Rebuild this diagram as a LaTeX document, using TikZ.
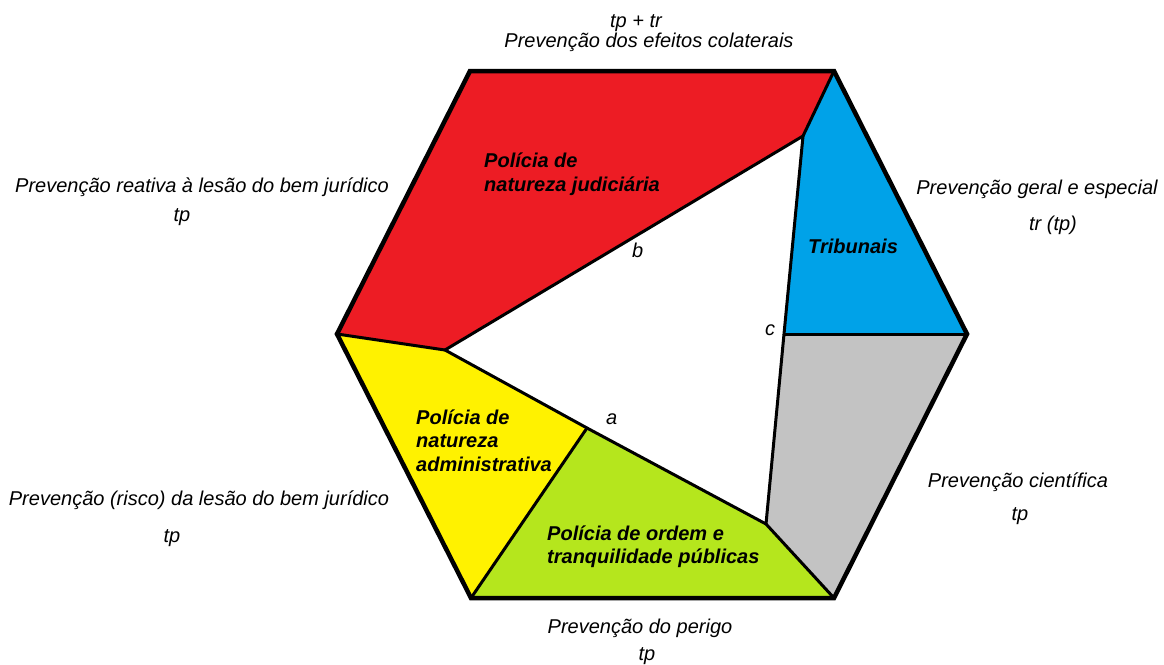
\documentclass[tikz,border=0pt]{standalone}
\usepackage{fontspec}
\setmainfont{Liberation Sans}
\definecolor{cred}{HTML}{ED1C24}
\definecolor{cblue}{HTML}{00A2E8}
\definecolor{cgray}{HTML}{C3C3C3}
\definecolor{cyellow}{HTML}{FFF200}
\definecolor{cgreen}{HTML}{B5E61D}
\tikzset{
  lbl/.style={inner sep=0pt, font=\fontsize{20}{24}\selectfont\itshape, anchor=base},
  blbl/.style={inner sep=0pt, font=\fontsize{20}{24}\selectfont\bfseries\itshape, anchor=base west},
  inner/.style={line width=3pt, line cap=round, line join=round},
  outer/.style={line width=4.5pt, line join=miter, miter limit=3}
}
\begin{document}
\begin{tikzpicture}[x=1pt,y=-1pt]
\useasboundingbox (0,0) rectangle (1164,664);
% hexagon vertices
\coordinate (T1) at (470,71);
\coordinate (T2) at (834,71);
\coordinate (R) at (967,334);
\coordinate (B2) at (834,598);
\coordinate (B1) at (471,598);
\coordinate (L) at (337,334);
% inner points
\coordinate (P) at (803,136);
\coordinate (Q) at (445,350);
\coordinate (A) at (587,428);
\coordinate (C) at (784,334);
\coordinate (S) at (766,524);
% regions
\fill[cred] (T1) -- (T2) -- (P) -- (Q) -- (L) -- cycle;
\fill[cblue] (T2) -- (R) -- (C) -- (P) -- cycle;
\fill[cgray] (C) -- (R) -- (B2) -- (S) -- cycle;
\fill[cyellow] (L) -- (Q) -- (A) -- (B1) -- cycle;
\fill[cgreen] (A) -- (S) -- (B2) -- (B1) -- cycle;
% inner lines
\draw[inner] (T2) -- (P) -- (Q) -- (A) -- (S) -- (B2);
\draw[inner] (P) -- (C) -- (S);
\draw[inner] (C) -- (R);
\draw[inner] (L) -- (Q);
\draw[inner] (A) -- (B1);
% hexagon outline
\draw[outer] (T1) -- (T2) -- (R) -- (B2) -- (B1) -- (L) -- cycle;
% region labels
\node[blbl] (rj1) at (484,167) {Polícia de};
\node[blbl] (rj2) at (484,191) {natureza judiciária};
\node[blbl] (tb) at (808,253) {Tribunais};
\node[blbl] (ya1) at (416,424) {Polícia de};
\node[blbl] (ya2) at (416,447) {natureza};
\node[blbl] (ya3) at (416,471) {administrativa};
\node[blbl] (go1) at (547,540) {Polícia de ordem e};
\node[blbl] (go2) at (547,563) {tranquilidade públicas};
% point labels
\node[lbl, anchor=base west] (pb) at (632,257) {b};
\node[lbl, anchor=base west] (pc) at (765,335) {c};
\node[lbl, anchor=base west] (pa) at (606,424) {a};
% side labels
\node[lbl] (top1) at (636,27) {tp + tr};
\node[lbl] (top2) at (649,47) {Prevenção dos efeitos colaterais};
\node[lbl] (lt1) at (202,192) {Prevenção reativa à lesão do bem jurídico};
\node[lbl] (lt2) at (182,221) {tp};
\node[lbl] (lb1) at (199,505) {Prevenção (risco) da lesão do bem jurídico};
\node[lbl] (lb2) at (172,542) {tp};
\node[lbl] (rt1) at (1037,194) {Prevenção geral e especial};
\node[lbl] (rt2) at (1053,230) {tr (tp)};
\node[lbl] (rb1) at (1018,487) {Prevenção científica};
\node[lbl] (rb2) at (1020,520) {tp};
\node[lbl] (bt1) at (640,633) {Prevenção do perigo};
\node[lbl] (bt2) at (647,660) {tp};
\end{tikzpicture}
\end{document}
